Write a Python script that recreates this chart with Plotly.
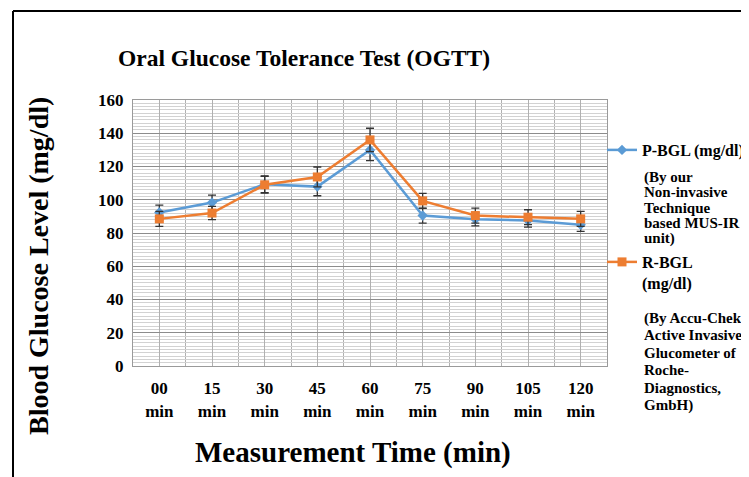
import plotly.graph_objects as go

times = ["00", "15", "30", "45", "60", "75", "90", "105", "120"]
tick_labels = [t + "<br>min" for t in times]
p_bgl = [92.3, 98.3, 109.3, 107.9, 130.0, 90.5, 88.3, 87.5, 85.0]
p_err = [4.5, 4.5, 5.0, 5.5, 6.5, 4.5, 4.0, 4.0, 4.0]
r_bgl = [88.5, 92.0, 109.0, 113.7, 136.0, 99.3, 90.5, 89.5, 88.5]
r_err = [4.5, 4.0, 5.0, 6.0, 7.0, 4.5, 4.5, 4.5, 4.5]
p_note = ["(By our", "Non-invasive", "Technique", "based MUS-IR", "unit)"]
r_note = ["(By Accu-Chek", "Active Invasive", "Glucometer of", "Roche-", "Diagnostics,", "GmbH)"]

BLUE = "#5B9BD5"
ORANGE = "#ED7D31"
FONT = "Liberation Serif"

xs = list(range(len(times)))

fig = go.Figure()
fig.add_trace(go.Scatter(
    x=xs, y=p_bgl, name="P-BGL (mg/dl)", mode="lines+markers", legend="legend",
    line=dict(color=BLUE, width=2.5),
    marker=dict(symbol="diamond", size=8, color=BLUE),
    error_y=dict(type="data", array=p_err, color="#333333", thickness=1.3, width=4),
))
fig.add_trace(go.Scatter(
    x=xs, y=r_bgl, name="R-BGL<br>(mg/dl)", mode="lines+markers", legend="legend2",
    line=dict(color=ORANGE, width=2.5),
    marker=dict(symbol="square", size=9, color=ORANGE),
    error_y=dict(type="data", array=r_err, color="#333333", thickness=1.3, width=4),
))

# page body has an 8px margin: figure coordinates = screen coordinates - 8
OFF = 8
W, H = 741, 469
L, T = 133 - OFF, 100 - OFF
pw, ph = 474, 266
R, B = W - L - pw, H - T - ph

def px(xs_):
    return (xs_ - OFF - L) / pw

def py(ys_):
    return (T + ph - (ys_ - OFF)) / ph

leg_font = dict(family=FONT, size=16, color="black", weight="bold")
note_font = dict(family=FONT, size=15, color="black", weight="bold")

annotations = [
    dict(text="Oral Glucose Tolerance Test (OGTT)", xref="paper", yref="paper",
         x=px(304), y=py(58), xanchor="center", yanchor="middle", showarrow=False,
         font=dict(family=FONT, size=23.5, color="black", weight="bold")),
    dict(text="Blood Glucose Level (mg/dl)", xref="paper", yref="paper",
         x=px(38), y=py(266), xanchor="center", yanchor="middle", showarrow=False, textangle=-90,
         font=dict(family=FONT, size=28, color="black", weight="bold")),
    dict(text="Measurement Time (min)", xref="paper", yref="paper",
         x=px(353), y=py(452), xanchor="center", yanchor="middle", showarrow=False,
         font=dict(family=FONT, size=29, color="black", weight="bold")),
]
for i, line in enumerate(p_note):
    annotations.append(dict(text=line, xref="paper", yref="paper", x=px(642), y=py(177 + 15.4 * i),
                            xanchor="left", yanchor="middle", showarrow=False, font=note_font))
for i, line in enumerate(r_note):
    annotations.append(dict(text=line, xref="paper", yref="paper", x=px(642), y=py(318 + 17.4 * i),
                            xanchor="left", yanchor="middle", showarrow=False, font=note_font))

fig.update_layout(
    width=W, height=H,
    margin=dict(l=L, r=R, t=T, b=B, autoexpand=False),
    paper_bgcolor="white", plot_bgcolor="white",
    font=dict(family=FONT, color="black"),
    showlegend=True,
    legend=dict(
        x=px(602), y=py(133), xanchor="left", yanchor="top",
        font=leg_font, valign="top", itemwidth=30, bgcolor="rgba(0,0,0,0)",
    ),
    legend2=dict(
        x=px(602), y=py(245), xanchor="left", yanchor="top",
        font=leg_font, valign="top", itemwidth=30, bgcolor="rgba(0,0,0,0)",
    ),
    xaxis=dict(
        range=[-0.5, len(times) - 0.5],
        tickmode="array", tickvals=xs, ticktext=tick_labels,
        tickfont=dict(family=FONT, size=17, color="black", weight="bold"),
        showgrid=True, gridcolor="#b0b0b0", gridwidth=1,
        minor=dict(dtick=0.5, tick0=-0.5, showgrid=True, gridcolor="#b0b0b0", gridwidth=1),
        showline=True, linecolor="#9a9a9a", linewidth=1, mirror=True,
        zeroline=False, ticks="", ticklabelstandoff=7,
    ),
    yaxis=dict(
        range=[0, 160], dtick=20, tick0=0,
        tickfont=dict(family=FONT, size=17, color="black", weight="bold"),
        showgrid=True, gridcolor="#8c8c8c", gridwidth=1,
        minor=dict(dtick=2, showgrid=True, gridcolor="#d2d2d2", gridwidth=1),
        showline=True, linecolor="#9a9a9a", linewidth=1, mirror=True,
        zeroline=False, ticks="", ticklabelstandoff=5,
    ),
    shapes=[
        dict(type="line", xref="paper", yref="paper", x0=px(13), x1=px(760), y0=py(11), y1=py(11),
             line=dict(color="black", width=2)),
        dict(type="line", xref="paper", yref="paper", x0=px(13), x1=px(13), y0=py(11), y1=py(490),
             line=dict(color="black", width=2)),
    ],
    annotations=annotations,
)

fig.write_html("out.html")
